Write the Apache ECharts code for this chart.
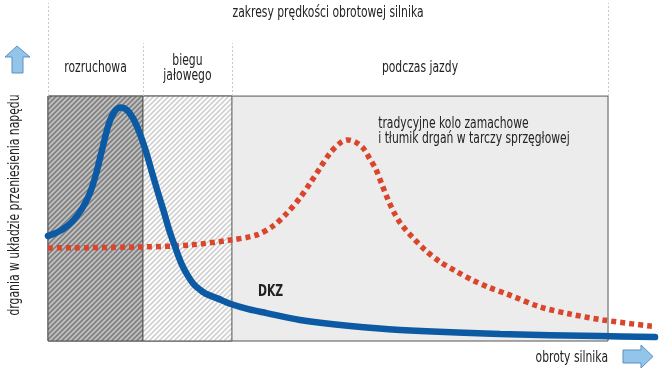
<!DOCTYPE html>
<html>
<head>
<meta charset="utf-8">
<script src="https://cdn.jsdelivr.net/npm/echarts@6/dist/echarts.min.js"></script>
<style>
  html, body { margin: 0; padding: 0; background: #fff; }
  #main { width: 660px; height: 377px; }
</style>
</head>
<body>
<div id="main"></div>
<script>
// zakresy (granice stref na osi obrotów)
var zoneNames = ['rozruchowa', 'biegu\njałowego', 'podczas jazdy'];
var zoneBounds = [0, 15.65, 30.3, 92.26];
var headerTitle = 'zakresy prędkości obrotowej silnika';

// krzywa DKZ (dwumasowe koło zamachowe)
var dkzData = [
  [0, 42.9], [1, 43.8], [2, 45.0], [3, 46.6], [4, 48.8], [5, 51.8], [6, 55.7],
  [7, 61.0], [8, 69.0], [9, 79.0], [10, 88.5], [11, 93.8], [12, 95.3],
  [13, 94.3], [14, 91.0], [15, 85.5], [16, 78.5], [17, 70.0], [18, 61.5],
  [19, 53.5], [20, 45.0], [21, 38.0], [22, 31.5], [23, 26.8], [24, 23.2],
  [25, 21.0], [26, 19.3], [28, 17.3], [30, 15.2], [33, 13.0], [36, 11.4],
  [41.5, 8.6], [49.8, 6.1], [58, 4.5], [74.5, 2.9], [90.9, 2.0], [100, 1.6]
];

// tradycyjne koło zamachowe i tłumik drgań
var tradData = [
  [0, 38.0], [15.7, 38.4], [23.4, 39.2], [30.0, 41.2], [34.4, 43.3], [37.1, 47.0],
  [39.4, 52.3], [41.5, 58.4], [43.2, 64.5], [44.8, 70.6], [46.5, 76.8],
  [48.1, 80.8], [49.3, 82.1], [50.6, 81.3], [51.9, 78.8], [53.0, 74.5],
  [54, 70.2], [55, 64.0], [56, 57.8], [57, 52.5], [58, 48.3], [59, 45.2],
  [60, 42.5], [62.1, 37.2], [64.6, 32.3], [67.4, 28.2], [69.9, 24.9], [72.5, 22.0],
  [75.6, 19.2], [81.1, 13.9], [86.0, 11.0], [91.4, 8.6], [99.2, 6.1], [100, 6.0]
];

// podpisy w układzie danych [x, y]
var labels = [
  { text: headerTitle, coord: [(zoneBounds[0] + zoneBounds[3]) / 2, 133.9], align: 'center' },
  { text: zoneNames[0], coord: [(zoneBounds[0] + zoneBounds[1]) / 2, 111.4], align: 'center' },
  { text: zoneNames[1], coord: [(zoneBounds[1] + zoneBounds[2]) / 2, 111.4], align: 'center' },
  { text: zoneNames[2], coord: [(zoneBounds[2] + zoneBounds[3]) / 2, 111.4], align: 'center' },
  { text: 'tradycyjne kolo zamachowe\ni tłumik drgań w tarczy sprzęgłowej', coord: [54.4, 85.3], align: 'left' },
  { text: 'DKZ', coord: [34.6, 20.0], align: 'left', bold: true }
];

var font = "'Liberation Sans Narrow', 'DejaVu Sans Condensed', sans-serif";
var fontSize = 15;
var squeeze = 0.8;

function stripes(bg, fg, size, w) {
  var c = document.createElement('canvas');
  c.width = size; c.height = size;
  var ctx = c.getContext('2d');
  ctx.fillStyle = bg;
  ctx.fillRect(0, 0, size, size);
  ctx.strokeStyle = fg;
  ctx.lineWidth = w;
  ctx.beginPath();
  ctx.moveTo(0, size); ctx.lineTo(size, 0);
  ctx.moveTo(-2, 2); ctx.lineTo(2, -2);
  ctx.moveTo(size - 2, size + 2); ctx.lineTo(size + 2, size - 2);
  ctx.stroke();
  return { image: c, repeat: 'repeat' };
}

var chart = echarts.init(document.getElementById('main'));

var boxTop = 100, headTop = 138, innerTop = 121.6;
var border = '#555';
var dashLine = { color: '#c8c8c8', type: [2, 2], width: 1 };

var option = {
  animation: false,
  grid: { left: 48, right: 5, top: 3, bottom: 36 },
  xAxis: { type: 'value', min: 0, max: 100, show: false },
  yAxis: { type: 'value', min: 0, max: headTop, show: false },
  series: [
    {
      type: 'line',
      data: [],
      z: 1,
      markArea: {
        silent: true,
        data: [
          [{ xAxis: zoneBounds[0], yAxis: 0, itemStyle: { color: '#ececec', borderColor: border, borderWidth: 1 } },
           { xAxis: zoneBounds[3], yAxis: boxTop }],
          [{ xAxis: zoneBounds[0], yAxis: 0, itemStyle: { color: stripes('#828282', '#c2c2c2', 5, 1.7), borderColor: border, borderWidth: 1 } },
           { xAxis: zoneBounds[1], yAxis: boxTop }],
          [{ xAxis: zoneBounds[1], yAxis: 0, itemStyle: { color: stripes('#fcfcfc', '#cccccc', 5, 1.5), borderColor: border, borderWidth: 1 } },
           { xAxis: zoneBounds[2], yAxis: boxTop }]
        ]
      },
      markLine: {
        silent: true,
        symbol: 'none',
        label: { show: false },
        data: [
          [{ coord: [zoneBounds[2], -1.5], lineStyle: { color: '#5fa8a6', type: 'solid', width: 1 } }, { coord: [zoneBounds[2], boxTop] }],
          [{ coord: [zoneBounds[0], boxTop], lineStyle: dashLine }, { coord: [zoneBounds[0], headTop] }],
          [{ coord: [zoneBounds[1], boxTop], lineStyle: dashLine }, { coord: [zoneBounds[1], innerTop] }],
          [{ coord: [zoneBounds[2], boxTop], lineStyle: dashLine }, { coord: [zoneBounds[2], innerTop] }],
          [{ coord: [zoneBounds[3], boxTop], lineStyle: dashLine }, { coord: [zoneBounds[3], headTop] }]
        ]
      }
    },
    {
      name: 'tradycyjne',
      type: 'line',
      data: tradData,
      smooth: 0.3,
      showSymbol: false,
      z: 3,
      lineStyle: { color: '#d9462b', width: 5.5, type: [5, 4], cap: 'butt' }
    },
    {
      name: 'DKZ',
      type: 'line',
      data: dkzData,
      smooth: 0.35,
      showSymbol: false,
      z: 4,
      lineStyle: { color: '#0b5aa3', width: 6.5, cap: 'round' }
    }
  ]
};

chart.setOption(option);

// teksty i strzałki (tekst zwężony jak w oryginale)
var graphics = [
  {
    type: 'polygon',
    shape: { points: [[17, 46], [30, 57], [23, 57], [23, 73], [12, 73], [12, 57], [5, 57]] },
    style: { fill: '#93c5ea', stroke: '#5d8fbd', lineWidth: 1 }
  },
  {
    type: 'polygon',
    shape: { points: [[623, 350], [641, 350], [641, 345], [653, 356.5], [641, 368], [641, 363], [623, 363]] },
    style: { fill: '#93c5ea', stroke: '#5d8fbd', lineWidth: 1 }
  },
  {
    type: 'text',
    x: 15, y: 205,
    rotation: Math.PI / 2,
    scaleX: squeeze,
    style: { text: 'drgania w układzie przeniesienia napędu', fill: '#222', font: fontSize + 'px ' + font,
             align: 'center', verticalAlign: 'middle' }
  },
  {
    type: 'text',
    x: 608, y: 358,
    scaleX: squeeze,
    style: { text: 'obroty silnika', fill: '#222', font: fontSize + 'px ' + font,
             align: 'right', verticalAlign: 'middle' }
  }
];

labels.forEach(function (l) {
  var p = chart.convertToPixel({ gridIndex: 0 }, l.coord);
  graphics.push({
    type: 'text',
    x: p[0], y: p[1],
    scaleX: squeeze,
    z: 10,
    style: {
      text: l.text, fill: '#222',
      font: (l.bold ? 'bold ' : '') + fontSize + 'px ' + font,
      lineHeight: 15,
      align: l.align, verticalAlign: 'middle'
    }
  });
});

chart.setOption({ graphic: graphics });
</script>
</body>
</html>
